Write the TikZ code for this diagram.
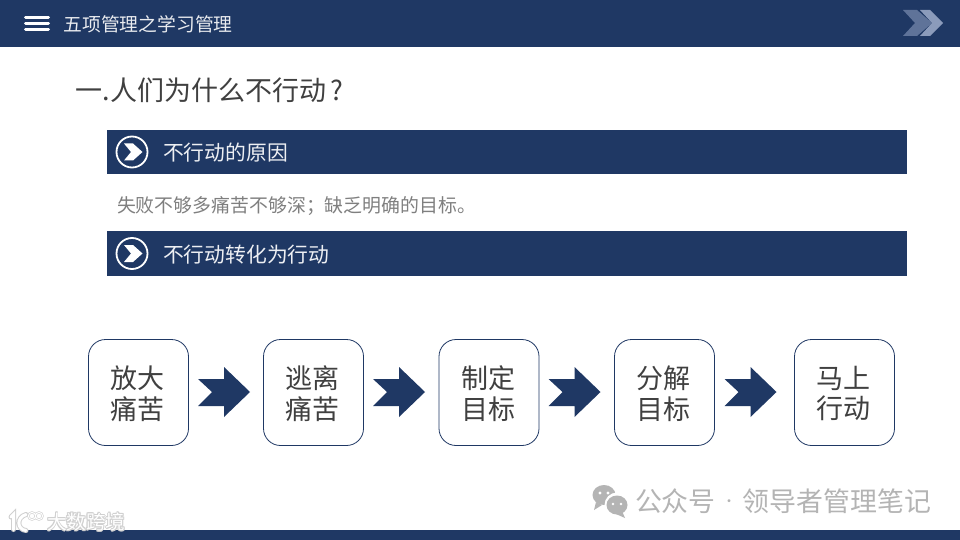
\documentclass[tikz,border=0pt]{standalone}
\usepackage{fontspec}
\newfontfamily\cjk{Noto Sans CJK SC}
\definecolor{navy}{HTML}{1F3864}
\definecolor{ink}{HTML}{404040}
\definecolor{soft}{HTML}{7F7F7F}
\definecolor{markgray}{HTML}{B4B4B4}
\definecolor{chevdark}{HTML}{5F7399}
\definecolor{chevlight}{HTML}{8B9BBB}
\definecolor{halo}{HTML}{D0D0D0}
\tikzset{
  every node/.style={inner sep=0pt,outer sep=0pt},
  headtext/.style={anchor=west,text=white!90!navy,font=\cjk\fontsize{18.8}{20}\selectfont},
  titletext/.style={anchor=west,text=ink,font=\cjk\fontsize{27}{30}\selectfont},
  bartext/.style={anchor=west,text=white!92!navy,font=\cjk\fontsize{20.8}{24}\selectfont},
  bodytext/.style={anchor=west,text=soft,font=\cjk\fontsize{18.9}{22}\selectfont},
  bandbox/.style={fill=navy,minimum width=800pt,anchor=north west},
  stepbox/.style={draw=navy,line width=0.8pt,rounded corners=17pt,fill=white,minimum width=100pt,minimum height=106pt,anchor=north west,align=center,text depth=0pt,text=ink,font=\cjk\fontsize{27}{30.5}\selectfont},
  wmtext/.style={anchor=west,text=markgray,font=\cjk\fontsize{26.9}{30}\selectfont},
  smallmark/.style={anchor=west,font=\cjk\fontsize{19.6}{22}\selectfont},
}
\newcommand{\stepline}[1]{\hspace*{-2pt}#1}
\newcommand{\flowarrow}[1]{\fill[navy,shift={(#1,0)}] (0,379) -- (26,379) -- (26,367) -- (52,392) -- (26,417) -- (26,406) -- (0,406) -- (14,392) -- cycle;}
\newcommand{\barmark}[1]{%
  \draw[white,line width=1.8pt] (132,#1) circle[radius=15.5];
  \fill[white,shift={(0,#1)}] (124,-8.5) -- (133,-8.5) -- (142.5,0) -- (133,8.5) -- (124,8.5) -- (131,0) -- cycle;}
\begin{document}
\begin{tikzpicture}[x=1pt,y=-1pt]
\useasboundingbox (0,0) rectangle (960,540);
\fill[white] (0,0) rectangle (960,540);
% top and bottom bands
\fill[navy] (0,0) rectangle (960,47);
\fill[navy] (0,530) rectangle (960,540);
% menu icon
\foreach \yy in {17.5,24,30}{\draw[white,line width=3pt,line cap=round] (25.5,\yy) -- (48.5,\yy);}
\node[headtext] (head) at (63.5,24) {五项管理之学习管理};
% header chevrons
\fill[chevdark] (903,10) -- (917,10) -- (932,23) -- (917,36) -- (903,36) -- (915,23) -- cycle;
\fill[chevlight] (920,10) -- (930,10) -- (943,23) -- (930,36) -- (920,36) -- (932,23) -- cycle;
% title
\node[titletext] (title) at (75,90) {一.\hspace{1pt}人们为什么不行动\hspace{4pt}?};
% bands
\node[bandbox,minimum height=44pt] (band1) at (107,130) {};
\node[bandbox,minimum height=45pt] (band2) at (107,231) {};
\barmark{152}
\barmark{253.5}
\node[bartext] (b1) at (163,153) {不行动的原因};
\node[bartext] (b2) at (163,254.5) {不行动转化为行动};
\node[bodytext] (body) at (117,206) {失败不够多痛苦不够深；缺乏明确的目标。};
% step boxes
\node[stepbox] (s1) at (88.5,339.5) {\stepline{放大}\\\stepline{痛苦}};
\node[stepbox] (s2) at (263.5,339.5) {\stepline{逃离}\\\stepline{痛苦}};
\node[stepbox] (s3) at (439,339.5) {\stepline{制定}\\\stepline{目标}};
\node[stepbox] (s4) at (614.5,339.5) {\stepline{分解}\\\stepline{目标}};
\node[stepbox] (s5) at (794.5,339.5) {\stepline{马上}\\\stepline{行动}};
\flowarrow{198}
\flowarrow{373}
\flowarrow{548.5}
\flowarrow{724.5}
% wechat watermark
\fill[markgray] (604,495) ellipse[x radius=11.5,y radius=10];
\fill[markgray] (596,502) -- (594,510) -- (602,505) -- cycle;
\fill[white] (617,505) circle[radius=12.5];
\fill[markgray] (617,505) ellipse[x radius=10.5,y radius=9.5];
\fill[markgray] (622,511) -- (625,518) -- (616,514) -- cycle;
\fill[white] (600,493) circle[radius=1.6] (608,493) circle[radius=1.6] (613,504) circle[radius=1.4] (621,504) circle[radius=1.4];
\node[wmtext] (wm) at (635,501.5) {公众号\makebox[26.9pt]{\raisebox{5pt}{\fontsize{14}{14}\selectfont ·}}领导者管理笔记};
% second watermark
\begin{scope}[line cap=round]
\draw[halo,line width=5pt] (11,517) -- (13.5,514.5) -- (13.5,529.5) (26,514.5) .. controls (16,517.5) and (17,529.5) .. (26,530.5);
\draw[white,line width=3pt] (11,517) -- (13.5,514.5) -- (13.5,529.5) (26,514.5) .. controls (16,517.5) and (17,529.5) .. (26,530.5);
\draw[halo,line width=2.2pt] (32,516) circle[radius=3.6] (39,516) circle[radius=3.6];
\draw[white,line width=1pt] (32,516) circle[radius=3.6] (39,516) circle[radius=3.6];
\end{scope}
\foreach \dx/\dy in {-0.9/0,0.9/0,0/-0.9,0/0.9,-0.7/-0.7,0.7/-0.7,-0.7/0.7,0.7/0.7}{
  \node[smallmark,text=halo] at (47+\dx,522+\dy) {大数跨境};
}
\node[smallmark,text=white] (wm2) at (47,522) {大数跨境};
\end{tikzpicture}
\end{document}
